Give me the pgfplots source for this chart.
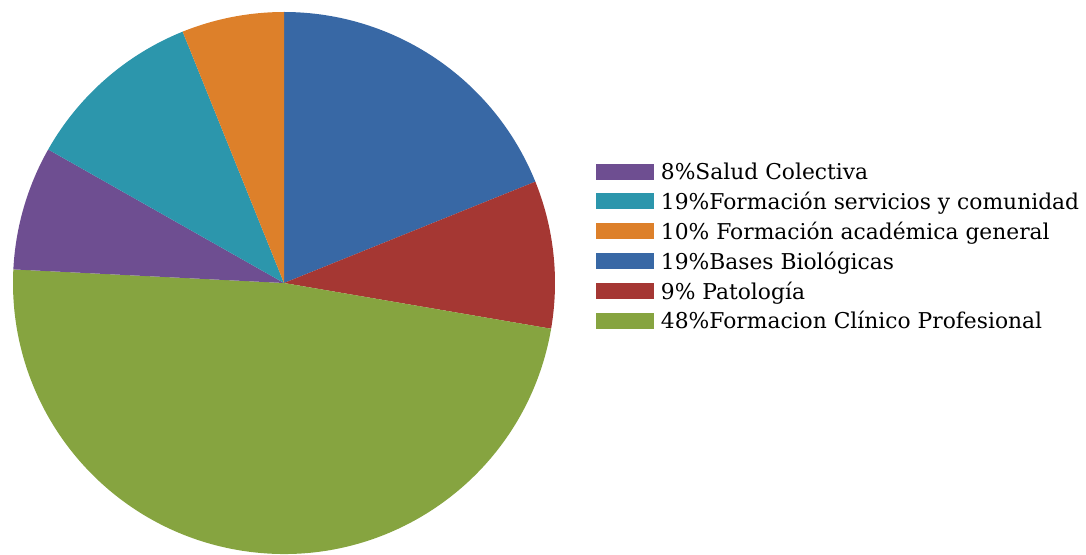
\documentclass[border=0pt]{standalone}
\usepackage{pgfplots}
\usepackage{pgfplotstable}
\pgfplotsset{compat=1.18}
\usepackage{fontspec}
\setmainfont{DejaVu Serif}

\definecolor{cPurple}{RGB}{110,78,145}
\definecolor{cTeal}{RGB}{44,150,172}
\definecolor{cOrange}{RGB}{221,128,42}
\definecolor{cBlue}{RGB}{56,104,165}
\definecolor{cRed}{RGB}{165,55,51}
\definecolor{cGreen}{RGB}{134,164,64}

% slice sizes (percent of the circle), clockwise from 12 o'clock
\pgfplotstableread{
value col
18.9  cBlue
8.8   cRed
48.1  cGreen
7.4   cPurple
10.7  cTeal
6.1   cOrange
}\piedata

\begin{document}
\begin{tikzpicture}
\begin{axis}[
    x=1pt, y=1pt,
    xmin=0, xmax=1086, ymin=0, ymax=554,
    hide axis,
    clip=false,
    legend cell align=left,
    legend style={draw=none, fill=none, font=\fontsize{21.8}{24}\selectfont,
        at={(axis cs:595.7,393.5)}, anchor=north west,
        row sep=7pt, inner sep=0pt,
        /tikz/every odd column/.append style={column sep=5pt}},
    legend image code/.code={\fill[#1, draw=none] (0pt,-8pt) rectangle (58pt,8pt);},
]
\def\angle{90}
\pgfplotsforeachungrouped \i in {0,...,5}{
    \pgfplotstablegetelem{\i}{value}\of\piedata
    \let\v=\pgfplotsretval
    \pgfplotstablegetelem{\i}{col}\of\piedata
    \let\c=\pgfplotsretval
    \pgfmathsetmacro\newangle{\angle-3.6*\v}
    \edef\slice{\noexpand\fill[\c] (axis cs:284,271) -- ++(\angle:271pt)
        arc[start angle=\angle, end angle=\newangle, radius=271pt] -- cycle;}
    \slice
    \global\let\angle=\newangle
}
\addlegendimage{fill=cPurple}
\addlegendentry{8\%Salud Colectiva}
\addlegendimage{fill=cTeal}
\addlegendentry{19\%Formación servicios y comunidad}
\addlegendimage{fill=cOrange}
\addlegendentry{10\% Formación académica general}
\addlegendimage{fill=cBlue}
\addlegendentry{19\%Bases Biológicas}
\addlegendimage{fill=cRed}
\addlegendentry{9\% Patología}
\addlegendimage{fill=cGreen}
\addlegendentry{48\%Formacion Clínico Profesional}
\end{axis}
\pgfresetboundingbox
\path (current axis.south west) rectangle (current axis.north east);
\end{tikzpicture}
\end{document}
